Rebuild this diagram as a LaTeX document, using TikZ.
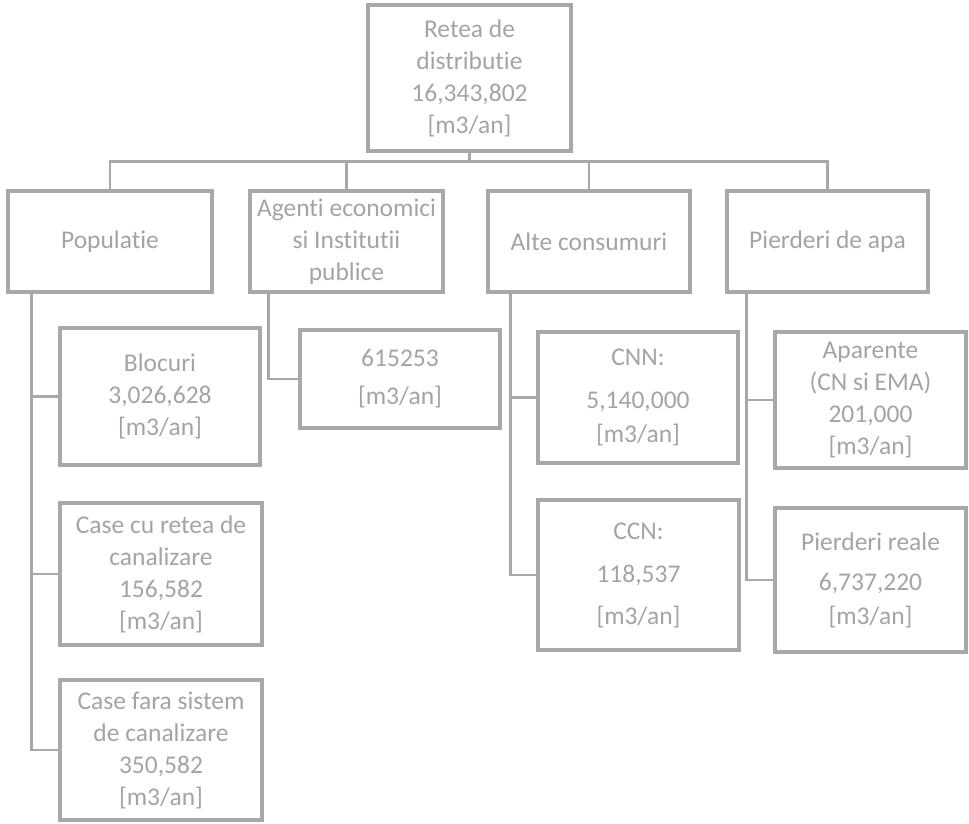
\documentclass[tikz,border=0pt]{standalone}
\usepackage{fontspec}
\setmainfont[Ligatures={NoCommon,NoContextual,NoRequired},RawFeature={-liga;-clig;-calt;-dlig}]{Carlito}
\usetikzlibrary{calc}
\definecolor{boxline}{HTML}{A8A8A8}
\definecolor{boxtext}{HTML}{A4A4A4}
\tikzset{
  unit/.style={draw=boxline, line width=3.5pt, fill=white, text=boxtext,
    align=center, inner sep=0pt, font=\fontsize{25.5}{32}\selectfont},
  link/.style={draw=boxline, line width=2.6pt}
}
\begin{document}
\begin{tikzpicture}[x=1pt, y=-1pt]
\useasboundingbox (0,0) rectangle (969,824);

% root
\node[unit, minimum width=203pt, minimum height=146pt] (top) at (469.5,78)
  {Retea de\\distributie\\16,343,802\\{[m3/an]}};

% first level
\node[unit, minimum width=204pt, minimum height=101pt] (pop)   at (110,241.5) {Populatie};
\node[unit, minimum width=193pt, minimum height=101pt] (agent) at (346.5,241.5)
  {Agenti economici\\si Institutii\\publice};
\node[unit, minimum width=202pt, minimum height=101pt] (alte)  at (589,241.5) {Alte consumuri};
\node[unit, minimum width=201pt, minimum height=101pt] (pierd) at (827.5,241.5) {Pierderi de apa};

% Populatie
\node[unit, minimum width=200pt, minimum height=137pt] (bloc) at (160,396.5)
  {Blocuri\\3,026,628\\{[m3/an]}};
\node[unit, minimum width=202pt, minimum height=142pt] (casecu) at (161,574)
  {Case cu retea de\\canalizare\\156,582\\{[m3/an]}};
\node[unit, minimum width=202pt, minimum height=140pt] (casefara) at (161,750)
  {Case fara sistem\\de canalizare\\350,582\\{[m3/an]}};

% Agenti economici
\node[unit, minimum width=200pt, minimum height=98pt] (ag) at (400,379)
  {615253\\[6pt]{[m3/an]}};

% Alte consumuri
\node[unit, minimum width=200pt, minimum height=131pt] (cnn) at (638,397.5)
  {CNN:\\[11pt]5,140,000\\[2pt]{[m3/an]}};
\node[unit, minimum width=201pt, minimum height=150pt] (ccn) at (638.5,575)
  {CCN:\\[11pt]118,537\\[10pt]{[m3/an]}};

% Pierderi de apa
\node[unit, minimum width=191pt, minimum height=136pt] (apar) at (870.5,400)
  {Aparente\\(CN si EMA)\\201,000\\{[m3/an]}};
\node[unit, minimum width=191pt, minimum height=144pt] (reale) at (870.5,580)
  {Pierderi reale\\[8pt]6,737,220\\[2pt]{[m3/an]}};

% root to first level
\coordinate (hub) at ($(top.south)+(0,9)$);
\draw[link] (top.south) -- (hub);
\foreach \n in {pop,agent,alte,pierd}
  \draw[link] (hub) -| (\n.north);

% first level to second level
\foreach \c in {bloc,casecu,casefara}
  \draw[link] ([xshift=25pt]pop.south west) |- (\c.west);
\draw[link] ([xshift=20pt]agent.south west) |- (ag.west);
\foreach \c in {cnn,ccn}
  \draw[link] ([xshift=24pt]alte.south west) |- (\c.west);
\foreach \c in {apar,reale}
  \draw[link] ([xshift=21pt]pierd.south west) |- (\c.west);
\end{tikzpicture}
\end{document}
